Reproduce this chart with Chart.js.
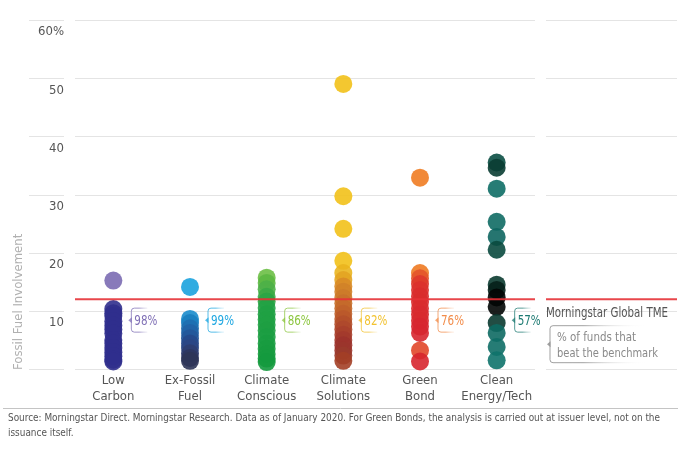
<!DOCTYPE html>
<html><head><meta charset="utf-8">
<script src="https://cdn.jsdelivr.net/npm/chart.js@4.4.1/dist/chart.umd.min.js"></script>
<style>html,body{margin:0;padding:0;background:#fff}#wrap{width:689px;height:456px;position:relative}</style>
</head><body><div id="wrap"><canvas id="c"></canvas></div>
<script>
const categories = [["Low","Carbon"],["Ex-Fossil","Fuel"],["Climate","Conscious"],["Climate","Solutions"],["Green","Bond"],["Clean","Energy/Tech"]];
const yTicks = [0,10,20,30,40,50,60];
const beatPct = ["98%","99%","86%","82%","76%","57%"];
const benchmark = 12;
const pctLabelLevel = 8.4;

const lowCarbon = [15.2,10.3,9.6,9.1,8.2,7.5,6.8,6.1,5.0,4.4,3.6,2.9,2.2,1.6,1.3];
const lowCarbonColors = ["#7b6bb3","#302f8d","#302f8d","#302f8d","#302f8d","#302f8d","#302f8d","#302f8d","#302f8d","#302f8d","#302f8d","#302f8d","#302f8d","#302f8d","#302f8d"];
const exFossil = [14.1,8.6,7.9,7.0,6.2,5.3,4.4,3.6,2.7,1.9,1.4];
const exFossilColors = ["#1ba3de","#1a8ccc","#1b7fc0","#1f6fb0","#2163a6","#23569a","#26498b","#2b4684","#2d3d70","#2d3660","#2d3558"];
const climateConscious = [15.7,14.8,13.7,12.4,11.6,10.5,9.4,8.5,7.6,6.6,5.5,4.4,3.5,2.6,1.8,1.2];
const climateConsciousColors = ["#6cbf45","#5cb843","#4db048","#3aaa46","#2ba545","#22a245","#1fa144","#1fa144","#1fa144","#1e9f43","#1c9e42","#1a9d41","#189c40","#179b3f","#169b3f","#149a3e"];
const climateSolutions = [49.0,29.7,24.1,18.6,16.5,15.3,14.2,13.3,12.2,11.3,10.4,9.5,8.6,7.7,6.8,5.9,5.0,4.1,3.2,2.3,1.4];
const climateSolutionsColors = ["#f2c11a","#f2c11a","#f2c11a","#f2c11a","#eab51f","#e3a424","#d98b27","#d18229","#cc7a2a","#c8712b","#c4692b","#c0622b","#ba592b","#b4502b","#ae482c","#a9402c","#a33a2c","#9c332c","#9b352c","#9a3b2c","#a33f26"];
const greenBond = [32.9,16.5,15.6,14.6,13.6,12.5,11.5,10.4,9.4,8.3,7.3,6.2,3.2,1.3];
const greenBondColors = ["#f07c22","#ee7a22","#e4542a","#de3a2c","#db322d","#d92c2e","#d92c2e","#d92c2e","#d82a2f","#d82a2f","#d72630","#d72630","#e1472a","#d7262f"];
const cleanEnergy = [35.5,34.6,31.0,25.3,22.7,20.5,14.5,13.6,12.3,10.7,7.9,6.2,3.8,1.5];
const cleanEnergyColors = ["#0b4f44","#0a3d33","#0e6e66","#0f6c64","#0e6660","#0a4a3f","#0b3b30","#06201a","#020504","#020504","#0a3a30","#0e6a63","#0e6e66","#0f736c"];

const seriesValues = [lowCarbon, exFossil, climateConscious, climateSolutions, greenBond, cleanEnergy];
const seriesColors = [lowCarbonColors, exFossilColors, climateConsciousColors, climateSolutionsColors, greenBondColors, cleanEnergyColors];
const pctColors = ["#7f6fb5","#1ea7e1","#8cc63f","#f2c230","#f28c4a","#1d7a72"];
const sourceLines = ["Source: Morningstar Direct. Morningstar Research. Data as of January 2020. For Green Bonds, the analysis is carried out at issuer level, not on the", "issuance itself."];

const FONT = '"Liberation Sans Narrow","DejaVu Sans Condensed","Roboto Condensed",Roboto,sans-serif';

function hexA(hex, a){
  const n = parseInt(hex.slice(1),16);
  return `rgba(${(n>>16)&255},${(n>>8)&255},${n&255},${a})`;
}

const datasets = seriesValues.map((vals, i) => ({
  data: vals.map(v => ({x: i, y: v})),
  backgroundColor: seriesColors[i].map(c => hexA(c, 0.9)),
  borderWidth: 0,
  pointRadius: 9,
  pointHoverRadius: 9,
  clip: false
}));

function bracket(ctx, x0, yc, h, w, color, fadeTo){
  const r = 3;
  const g = ctx.createLinearGradient(x0, 0, x0 + fadeTo, 0);
  g.addColorStop(0, color);
  g.addColorStop(0.35, color);
  g.addColorStop(1, 'rgba(255,255,255,0)');
  ctx.strokeStyle = g;
  ctx.lineWidth = 1;
  ctx.beginPath();
  ctx.moveTo(x0 + w, yc - h/2);
  ctx.lineTo(x0 + r, yc - h/2);
  ctx.arcTo(x0, yc - h/2, x0, yc - h/2 + r, r);
  ctx.lineTo(x0, yc + h/2 - r);
  ctx.arcTo(x0, yc + h/2, x0 + r, yc + h/2, r);
  ctx.lineTo(x0 + w, yc + h/2);
  ctx.stroke();
  ctx.fillStyle = color;
  ctx.beginPath();
  ctx.moveTo(x0 - 3, yc);
  ctx.lineTo(x0 + 0.5, yc - 3);
  ctx.lineTo(x0 + 0.5, yc + 3);
  ctx.closePath();
  ctx.fill();
}

const decor = {
  id: 'decor',
  beforeDatasetsDraw(chart){
    const ctx = chart.ctx, ca = chart.chartArea, ys = chart.scales.y;
    ctx.save();
    ctx.strokeStyle = '#e4e4e4';
    ctx.lineWidth = 1;
    yTicks.forEach(v => {
      const y = Math.round(ys.getPixelForValue(v)) + 0.5;
      [[29, 64], [ca.left, ca.right], [ca.right + 11, 677]].forEach(([a, b]) => {
        ctx.beginPath(); ctx.moveTo(a, y); ctx.lineTo(b, y); ctx.stroke();
      });
    });
    ctx.restore();
  },
  afterDatasetsDraw(chart){
    const ctx = chart.ctx, ca = chart.chartArea, ys = chart.scales.y, xs = chart.scales.x;
    ctx.save();
    const yb = ys.getPixelForValue(benchmark);
    ctx.strokeStyle = 'rgba(230,50,55,0.9)';
    ctx.lineWidth = 2;
    [[ca.left, ca.right], [ca.right + 11, 677]].forEach(([a, b]) => {
      ctx.beginPath(); ctx.moveTo(a, yb); ctx.lineTo(b, yb); ctx.stroke();
    });
    const yl = ys.getPixelForValue(pctLabelLevel);
    beatPct.forEach((t, i) => {
      const x0 = xs.getPixelForValue(i) + 18;
      bracket(ctx, x0, yl, 24, 16, hexA(pctColors[i], 0.75), 22);
      ctx.fillStyle = pctColors[i];
      ctx.font = '13.5px ' + FONT;
      ctx.textAlign = 'left';
      ctx.textBaseline = 'middle';
      ctx.fillText(t, x0 + 3, yl + 1, 23);
    });
    const lx = ca.right + 11;
    ctx.fillStyle = '#555';
    ctx.font = '13.5px ' + FONT;
    ctx.textAlign = 'left';
    ctx.textBaseline = 'middle';
    ctx.fillText('Morningstar Global TME', lx, yb + 14, 122);
    bracket(ctx, lx + 4, yb + 45, 37, 95, 'rgba(150,150,150,0.9)', 95);
    ctx.fillStyle = '#8a8a8a';
    ctx.font = '13px ' + FONT;
    ctx.fillText('% of funds that', lx + 11, yb + 38, 79);
    ctx.fillText('beat the benchmark', lx + 11, yb + 54, 101);
    ctx.save();
    ctx.translate(19, ca.bottom + 1);
    ctx.rotate(-Math.PI / 2);
    ctx.fillStyle = '#b0b0b0';
    ctx.font = '13px ' + FONT;
    ctx.textAlign = 'left';
    ctx.textBaseline = 'middle';
    ctx.fillText('Fossil Fuel Involvement', 0, 0, 143);
    ctx.restore();
    ctx.strokeStyle = '#c4c4c4';
    ctx.lineWidth = 1;
    ctx.beginPath(); ctx.moveTo(3, 408.5); ctx.lineTo(678, 408.5); ctx.stroke();
    ctx.fillStyle = '#555';
    ctx.font = '11px ' + FONT;
    const ratio = Math.min(1, 652 / ctx.measureText(sourceLines[0]).width);
    sourceLines.forEach((line, k) => {
      ctx.fillText(line, 8, 418 + 15 * k, ctx.measureText(line).width * ratio);
    });
    ctx.restore();
  }
};

new Chart(document.getElementById('c'), {
  type: 'scatter',
  data: { datasets },
  plugins: [decor],
  options: {
    responsive: true,
    maintainAspectRatio: false,
    animation: false,
    layout: { padding: { top: 20, right: 154, left: 0, bottom: 0 } },
    plugins: { legend: { display: false }, tooltip: { enabled: false } },
    scales: {
      x: {
        type: 'linear', min: -0.5, max: 5.5,
        afterBuildTicks: s => { s.ticks = categories.map((_, i) => ({ value: i })); },
        afterFit: s => { s.height = 87; },
        grid: { display: false, drawTicks: false },
        border: { display: false },
        ticks: { callback: v => categories[v], color: '#555', font: { family: FONT, size: 13 }, padding: 4, maxRotation: 0, autoSkip: false }
      },
      y: {
        min: 0, max: 60,
        afterBuildTicks: s => { s.ticks = yTicks.map(v => ({ value: v })); },
        afterFit: s => { s.width = 75; },
        grid: { display: false, drawTicks: false },
        border: { display: false },
        ticks: { callback: v => v === 0 ? '' : (v === 60 ? '60%' : String(v)), color: '#555', font: { family: FONT, size: 13 }, padding: 11, labelOffset: 12 }
      }
    }
  }
});
</script></body></html>
